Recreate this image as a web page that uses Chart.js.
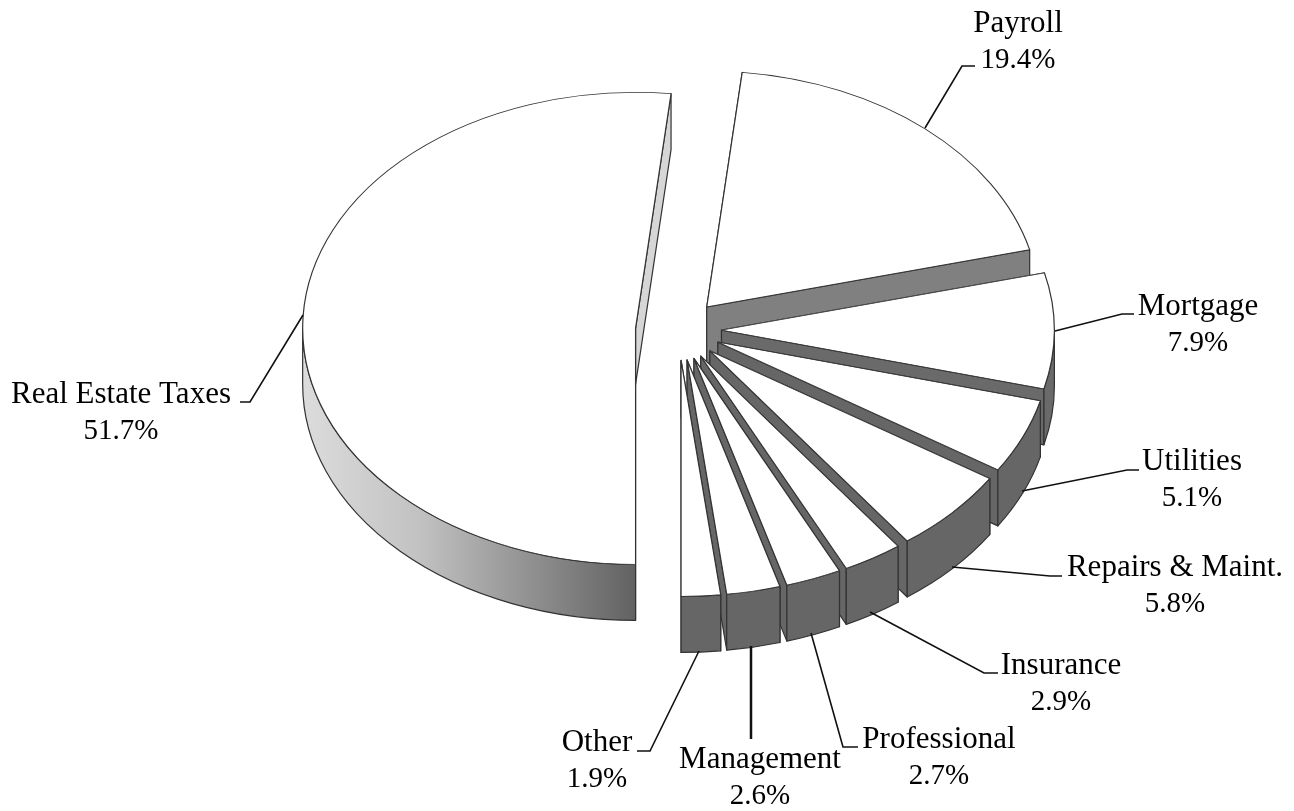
<!DOCTYPE html>
<html>
<head>
<meta charset="utf-8">
<title>Expenses</title>
<script src="https://cdn.jsdelivr.net/npm/chart.js@4"></script>
<style>
  html, body { margin: 0; padding: 0; background: #fff; }
  canvas { display: block; }
</style>
</head>
<body>
<canvas id="grafico" width="1294" height="811"></canvas>
<script>
const categories = ['Real Estate Taxes', 'Payroll', 'Mortgage', 'Utilities', 'Repairs & Maint.', 'Insurance', 'Professional', 'Management', 'Other'];
const shares = [51.7, 19.4, 7.9, 5.1, 5.8, 2.9, 2.7, 2.6, 1.9];

// text centre and first line baseline, then leader line points
const labelPos = [
  { x: 121, y: 403, line: [[303, 315], [250, 402], [240, 402]] },
  { x: 1018, y: 32, line: [[925, 128], [962, 66], [975, 66]] },
  { x: 1198, y: 315, line: [[1055, 331], [1122, 314], [1134, 314]] },
  { x: 1192, y: 470, line: [[1022, 491], [1127, 470], [1139, 470]] },
  { x: 1175, y: 576, line: [[952, 567], [1050, 576], [1062, 576]] },
  { x: 1061, y: 674, line: [[870, 612], [984, 673], [998, 673]] },
  { x: 939, y: 748, line: [[811, 633], [843, 747], [858, 747]] },
  { x: 760, y: 768, line: [[751, 646], [751, 739]], width: 2.5 },
  { x: 597, y: 751, line: [[699, 651], [650, 751], [637, 751]] }
];

const wallColors = ['#d6d6d6', '#808080', '#6a6a6a', '#666666', '#666666', '#666666', '#666666', '#666666', '#666666'];
const lineColor = '#333333';

const pie3d = {
  id: 'pie3d',
  beforeDatasetsDraw(chart, args, opts) {
    const ctx = chart.ctx;
    const arcs = chart.getDatasetMeta(0).data;

    // de atras hacia adelante
    const order = [1, 0, 2, 3, 4, 5, 6, 7, 8];
    order.forEach(i => {
      const arc = arcs[i];
      const r = arc.outerRadius;
      const ry = r * opts.tilt;
      const mid = (arc.startAngle + arc.endAngle) / 2;
      const x = opts.cx + Math.cos(mid) * opts.explode;
      const y = opts.cy + Math.sin(mid) * opts.explode * opts.tilt;
      const d = opts.depth;
      const edge = a => [x + Math.cos(a) * r, y + Math.sin(a) * ry];

      ctx.save();
      ctx.strokeStyle = lineColor;
      ctx.lineWidth = 1.2;
      ctx.lineJoin = 'round';

      // paredes rectas
      [arc.startAngle, arc.endAngle].forEach(a => {
        const p = edge(a);
        ctx.beginPath();
        ctx.moveTo(x, y);
        ctx.lineTo(p[0], p[1]);
        ctx.lineTo(p[0], p[1] + d);
        ctx.lineTo(x, y + d);
        ctx.closePath();
        ctx.fillStyle = wallColors[i];
        ctx.fill();
        ctx.stroke();
      });

      // pared exterior, solo la mitad de adelante
      const turn = Math.floor(arc.startAngle / (2 * Math.PI)) * 2 * Math.PI;
      [turn, turn + 2 * Math.PI].forEach(base => {
        const a0 = Math.max(arc.startAngle, base);
        const a1 = Math.min(arc.endAngle, base + Math.PI);
        if (a1 <= a0) return;
        ctx.beginPath();
        ctx.ellipse(x, y, r, ry, 0, a0, a1);
        ctx.ellipse(x, y + d, r, ry, 0, a1, a0, true);
        ctx.closePath();
        if (i === 0) {
          const grad = ctx.createLinearGradient(x - r, 0, x, 0);
          grad.addColorStop(0, '#dcdcdc');
          grad.addColorStop(0.35, '#c2c2c2');
          grad.addColorStop(1, '#626262');
          ctx.fillStyle = grad;
        } else {
          ctx.fillStyle = wallColors[i];
        }
        ctx.fill();
        ctx.stroke();
      });
      ctx.restore();

      // cara superior, la dibuja el propio elemento de Chart.js
      ctx.save();
      ctx.translate(x, y);
      ctx.scale(1, opts.tilt);
      ctx.translate(-arc.x, -arc.y);
      arc.draw(ctx);
      ctx.restore();
    });
    return false;
  },
  afterDraw(chart) {
    const ctx = chart.ctx;
    ctx.save();
    ctx.strokeStyle = '#111';
    labelPos.forEach(p => {
      ctx.lineWidth = p.width || 1.6;
      ctx.beginPath();
      p.line.forEach((pt, k) => k ? ctx.lineTo(pt[0], pt[1]) : ctx.moveTo(pt[0], pt[1]));
      ctx.stroke();
    });
    ctx.fillStyle = '#000';
    ctx.textAlign = 'center';
    categories.forEach((name, i) => {
      ctx.font = '31px "Liberation Serif"';
      ctx.fillText(name, labelPos[i].x, labelPos[i].y);
      ctx.font = '29px "Liberation Serif"';
      ctx.fillText(shares[i].toFixed(1) + '%', labelPos[i].x, labelPos[i].y + 36);
    });
    ctx.restore();
  }
};

new Chart(document.getElementById('grafico').getContext('2d'), {
  type: 'pie',
  data: {
    labels: categories,
    datasets: [{
      data: shares,
      backgroundColor: '#ffffff',
      borderColor: lineColor,
      borderWidth: 1.2,
      hoverOffset: 0
    }]
  },
  options: {
    responsive: false,
    animation: false,
    rotation: 180,
    layout: { padding: { bottom: 144 } },
    plugins: {
      legend: { display: false },
      tooltip: { enabled: false },
      pie3d: { cx: 678.5, cy: 330, explode: 43, tilt: 0.709, depth: 56 }
    }
  },
  plugins: [pie3d]
});
</script>
</body>
</html>
